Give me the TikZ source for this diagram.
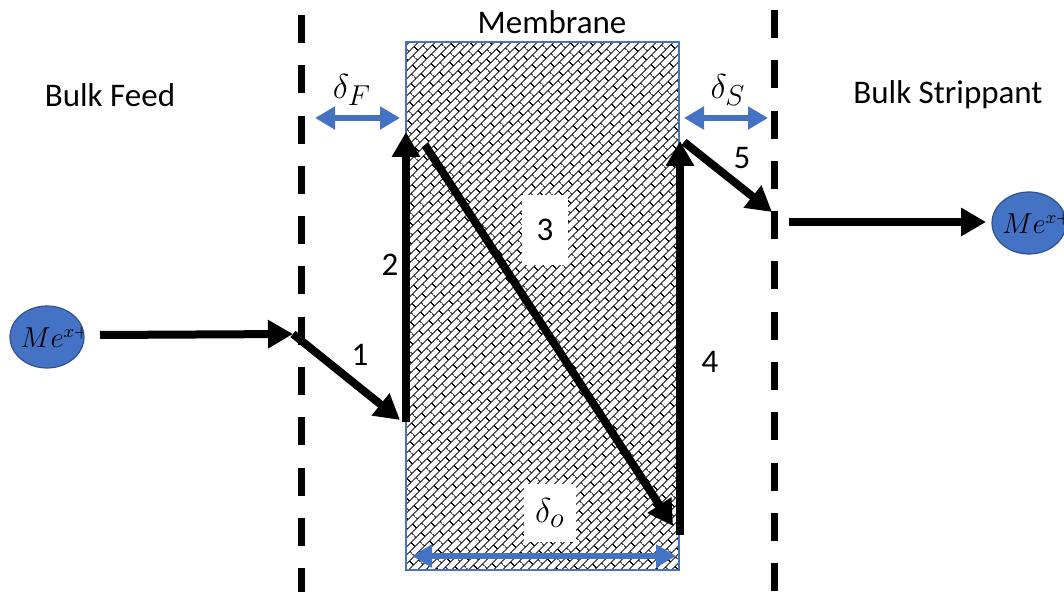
\documentclass[tikz,border=0pt]{standalone}
\usepackage{fontspec}
\setmainfont{Carlito}
\usetikzlibrary{arrows.meta,patterns.meta,shapes.geometric}
\definecolor{mblue}{HTML}{4472C4}
\definecolor{eblue}{HTML}{2F528F}
\tikzdeclarepattern{
  name=dbricks,
  type=uncolored,
  bottom left={(0pt,0pt)},
  top right={(7pt,6pt)},
  tile size={(7pt,6pt)},
  tile transformation={rotate=45},
  code={
    \draw[line width=0.5pt] (0pt,1.5pt) -- (7pt,1.5pt) (0pt,4.5pt) -- (7pt,4.5pt)
      (1.75pt,1.5pt) -- (1.75pt,4.5pt) (5.25pt,4.5pt) -- (5.25pt,6pt) (5.25pt,0pt) -- (5.25pt,1.5pt);
  }
}
\begin{document}
\begin{tikzpicture}[x=0.5pt,y=-0.5pt,
  lbl/.style={font=\fontsize{16.5}{19}\selectfont, inner sep=0pt},
  mlbl/.style={font=\fontsize{19}{22}\selectfont, inner sep=0pt},
  flow/.style={line width=4pt, -{Triangle[length=12.5pt,width=13.5pt]}},
  dim/.style={line width=3pt, mblue, {Triangle[length=10pt,width=11pt]}-{Triangle[length=10pt,width=11pt]}},
  wall/.style={line width=3.5pt, dash pattern=on 14pt off 11.15pt},
  ion/.style={ellipse, fill=mblue, draw=eblue, line width=0.6pt, inner sep=0pt,
    minimum width=37pt, minimum height=31pt,
    path picture={\node[font=\fontsize{13.5}{15}\selectfont] at ([xshift=4pt]path picture bounding box.center) {$Me^{x+}$};}},
  membrane/.style={draw=mblue, line width=0.75pt, pattern=dbricks, pattern color=black, inner sep=0pt},
  whitebox/.style={fill=white, inner sep=0pt}
]
\useasboundingbox (0,0) rectangle (1064,592);

% membrane
\node (mem) [membrane, minimum width=136.5pt, minimum height=264pt] at (542.5,306) {};

% walls
\coordinate (wFt) at (301,15);
\coordinate (wFb) at (301,600);
\coordinate (wSt) at (774,10);
\coordinate (wSb) at (774,600);
\draw[wall] (wFt) -- (wFb);
\draw[wall] (wSt) -- (wSb);

% texts
\node (tmem) [lbl] at (552,22) {Membrane};
\node (tfeed) [lbl] at (110,95) {Bulk Feed};
\node (tstrip) [lbl] at (948,95) {Bulk Strippant};
\node (dF) [mlbl] at (352,90) {$\delta_F$};
\node (dS) [mlbl] at (728,90) {$\delta_S$};
\node (n1) [lbl] at (360,355) {1};
\node (n2) [lbl] at (390,265) {2};
\node (n3) [lbl, whitebox, minimum width=23pt, minimum height=35pt] at (545,230) {3};
\node (n4) [lbl] at (710,362) {4};
\node (n5) [lbl] at (742,158) {5};
\node (dO) [mlbl, whitebox, minimum width=26pt, minimum height=29pt] at (550,513) {$\delta_o$};

% ions
\node (ionL) [ion] at (47,337) {};
\node (ionR) [ion] at (1029,223) {};

% thickness arrows
\coordinate (dFa) at (315,118);
\coordinate (dFb) at (400,118);
\coordinate (dSa) at (684,118);
\coordinate (dSb) at (768,118);
\coordinate (dOa) at (412,556);
\coordinate (dOb) at (676,556);
\draw[dim] (dFa) -- (dFb);
\draw[dim] (dSa) -- (dSb);
\draw[dim] (dOa) -- (dOb);

% transport steps
\coordinate (pin) at (100,335);
\coordinate (p1) at (293,334);
\coordinate (p2b) at (400,420);
\coordinate (p2s) at (406,422);
\coordinate (p2t) at (406,132);
\coordinate (p3s) at (425,145);
\coordinate (p3t) at (673,526);
\coordinate (p4s) at (680,535);
\coordinate (p4t) at (680,141);
\coordinate (p5s) at (684,142);
\coordinate (p5t) at (772,212);
\coordinate (pout) at (789,222);
\coordinate (pend) at (986,222);
\draw[flow] (pin) -- (p1);
\draw[flow] (p1) -- (p2b);
\draw[flow] (p2s) -- (p2t);
\draw[flow] (p3s) -- (p3t);
\draw[flow] (p4s) -- (p4t);
\draw[flow] (p5s) -- (p5t);
\draw[flow] (pout) -- (pend);
\end{tikzpicture}
\end{document}
